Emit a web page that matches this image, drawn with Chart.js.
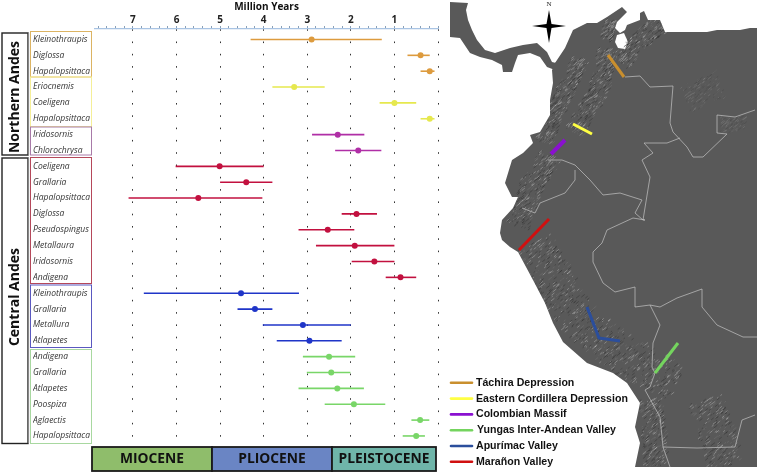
<!DOCTYPE html>
<html><head><meta charset="utf-8">
<style>html,body{margin:0;padding:0;background:#fff}canvas{display:block}</style>
<script src="https://cdn.jsdelivr.net/npm/chart.js@4"></script></head>
<body><canvas id="c" width="757" height="473"></canvas>
<script>
const taxa=["Kleinothraupis","Diglossa","Hapalopsittaca","Eriocnemis","Coeligena","Hapalopsittaca","Iridosornis","Chlorochrysa","Coeligena","Grallaria","Hapalopsittaca","Diglossa","Pseudospingus","Metallaura","Iridosornis","Andigena","Kleinothraupis","Grallaria","Metallura","Atlapetes","Andigena","Grallaria","Atlapetes","Poospiza","Aglaectis","Hapalopsittaca"];
const oldest=[4.30,0.70,0.40,3.80,1.34,0.40,2.89,2.36,6.02,5.00,7.10,2.21,3.20,2.80,1.98,1.20,6.75,4.60,4.02,3.70,3.10,3.01,3.20,2.60,0.61,0.81];
const mean=[2.90,0.40,0.19,3.30,1.00,0.19,2.30,1.83,5.01,4.40,5.50,1.87,2.53,1.91,1.46,0.86,4.52,4.20,3.10,2.95,2.50,2.45,2.31,1.93,0.41,0.50];
const youngest=[1.29,0.19,0.08,2.60,0.50,0.08,1.69,1.30,4.00,3.80,4.03,1.40,1.92,1.00,1.00,0.50,3.19,3.80,2.00,2.21,1.90,2.01,1.70,1.21,0.20,0.30];
const barrier=["#dd9b3e","#dd9b3e","#dd9b3e","#e6e84e","#e6e84e","#e6e84e","#b02ea6","#b02ea6","#c2103f","#c2103f","#c2103f","#c2103f","#c2103f","#c2103f","#c2103f","#c2103f","#1f35c8","#1f35c8","#1f35c8","#1f35c8","#79d668","#79d668","#79d668","#79d668","#79d668","#79d668"];
const legendLabels=["Táchira Depression","Eastern Cordillera Depression","Colombian Massif","Yungas Inter-Andean Valley","Apurímac Valley","Marañon Valley"];
const legendColors=["#c98f2e","#ffff44","#8a10d0","#74d45e","#2b4e9c","#d01010"];
const ranges=taxa.map((t,i)=>({type:'scatter',showLine:true,data:[{x:oldest[i],y:i},{x:youngest[i],y:i}],borderColor:barrier[i],borderWidth:1.6,pointRadius:0,order:2}));
const means=taxa.map((t,i)=>({x:mean[i],y:i}));
const land=[[555,63],[565,48],[573,30],[587,23],[597,23],[607,17],[622,7],[627,12],[617,22],[615,28],[620,33],[625,30],[627,25],[640,20],[640,13],[644,11],[648,20],[660,20],[665,32],[687,32],[707,32],[717,30],[740,30],[750,28],[757,28],[757,467],[635,467],[640,443],[635,427],[640,403],[627,383],[613,373],[587,363],[563,342],[553,323],[545,303],[533,280],[518,252],[510,247],[502,240],[500,233],[502,220],[513,208],[518,197],[512,197],[505,183],[512,160],[523,153],[533,143],[530,135],[540,132],[550,115],[550,100],[553,83],[552,70]];
const centralAm=[[450,2],[468,3],[466,10],[468,20],[472,30],[477,40],[485,50],[495,53],[510,48],[523,45],[537,43],[547,52],[552,62],[556,63],[555,70],[547,67],[540,57],[530,53],[518,55],[515,63],[512,72],[503,72],[502,65],[492,60],[480,57],[470,53],[460,38],[450,37]];
const lake=[[617,35],[624,33],[628,42],[625,49],[618,48],[615,42]];
const borders=[[[625,77],[640,76],[650,87],[673,86],[670,123],[673,132],[687,147],[693,157],[703,157],[727,134],[717,133],[717,115],[735,117],[755,110]],
[[680,138],[667,143],[644,143],[653,153],[642,160],[650,177],[643,220],[645,220],[633,218],[607,230],[602,243],[593,252],[593,262],[603,283],[615,292],[635,287],[635,307],[650,305],[660,307],[677,298],[702,289],[702,307],[717,325],[743,337],[757,337]],
[[650,305],[660,325],[653,343],[652,367],[655,373],[650,387],[645,390],[660,417],[663,447],[670,467]],
[[663,447],[697,448],[735,447],[742,420],[755,415]],
[[548,160],[562,160],[575,165],[590,180],[603,195],[620,193],[642,200],[635,213],[643,220]],
[[575,170],[575,180],[565,193],[540,203],[535,213],[522,208]]];
const relief=[[[620,63],[640,40],[663,23],[10]],[[607,50],[597,93],[573,133],[10]],[[580,60],[560,100],[543,143],[9]],[[612,22],[604,40],[7]],[[550,157],[530,187],[517,227],[12]],[[533,243],[553,283],[580,323],[623,357],[677,383],[20]],[[650,400],[655,467],[12]],[[705,400],[725,467],[18]],[[685,100],[720,85],[14]],[[720,125],[745,125],[8]]];
const cuts=[[[608,55],[624,77]],[[573,124],[592,134]],[[551,154],[565,140]],[[655,373],[678,343]],[[587,307],[599,338],[620,341]],[[519,250],[549,219]]];
function tracePoly(c,pts){pts.forEach((p,i)=>i?c.lineTo(p[0],p[1]):c.moveTo(p[0],p[1]));c.closePath();}
function grain(n){const v=Math.sin(n*12.9898)*43758.5453;return v-Math.floor(v);}
function drawMap(c){
  c.save();c.fillStyle='#595959';c.beginPath();tracePoly(c,land);tracePoly(c,centralAm);c.fill();
  c.fillStyle='#fff';c.beginPath();tracePoly(c,lake);c.fill();
  c.save();c.beginPath();tracePoly(c,land);tracePoly(c,centralAm);c.clip();
  const hatch=(path,hw,muted)=>{let n=0;for(let s=0;s<path.length-1;s++){
    const a=path[s],b=path[s+1],L=Math.hypot(b[0]-a[0],b[1]-a[1]),nx=-(b[1]-a[1])/L,ny=(b[0]-a[0])/L;
    for(let d=0;d<L;d+=.3){n++;
      const off=(grain(n)*2-1)*hw,w=1.5+grain(n+.37)*6,t=grain(n+.71);
      const x=a[0]+(b[0]-a[0])*d/L+nx*off,y=a[1]+(b[1]-a[1])*d/L+ny*off;
      c.strokeStyle=t<.36?'#e6e6e6':t<.72?'#1e1e1e':'#858585';c.lineWidth=.6;c.globalAlpha=muted?.22:.55;
      c.beginPath();c.moveTo(x,y);c.lineTo(x+w*.5,y-w*.4);c.stroke();}}};
  relief.forEach(r=>{const hw=r[r.length-1][0];hatch(r.slice(0,-1),hw,hw<=14&&r[0][0]>=685);});
  c.restore();c.globalAlpha=1;
  c.strokeStyle='#c4c4c4';c.lineWidth=.7;
  borders.forEach(l=>{c.beginPath();l.forEach((p,i)=>i?c.lineTo(p[0],p[1]):c.moveTo(p[0],p[1]));c.stroke();});
  c.lineCap='butt';c.lineJoin='round';
  cuts.forEach((k,i)=>{c.strokeStyle=legendColors[i];c.lineWidth=i==2?4:3;c.beginPath();k.forEach((p,j)=>j?c.lineTo(p[0],p[1]):c.moveTo(p[0],p[1]));c.stroke();});
  c.fillStyle='#000';c.beginPath();c.moveTo(549,10);c.lineTo(551.5,24);c.lineTo(566,26);c.lineTo(551.5,28);c.lineTo(549,43);c.lineTo(546.5,28);c.lineTo(532,26);c.lineTo(546.5,24);c.closePath();c.fill();
  c.fillStyle='#222';c.font='7px "Liberation Serif"';c.textAlign='center';c.textBaseline='middle';c.fillText('N',549,4);
  legendLabels.forEach((t,i)=>{const y=382.8+i*15.8;c.strokeStyle=legendColors[i];c.lineWidth=2.6;c.lineCap='round';c.beginPath();c.moveTo(451,y);c.lineTo(472,y);c.stroke();
    c.fillStyle='#111';c.font='bold 10.6px "Liberation Sans"';c.textAlign='left';c.textBaseline='middle';c.fillText(t,i==3?477:476,y);});
  c.restore();
}
function box(c,x0,y0,x1,y1,col,lw){c.strokeStyle=col;c.lineWidth=lw;c.strokeRect(x0,y0,x1-x0,y1-y0);}
function drawFrames(c){
  c.save();
  [[30.5,31.5,91.5,77,'#dcb463'],[30.5,77,91.5,126.5,'#f5ef98'],[30.5,127,91.5,155,'#a87aa8'],[30.5,157.5,91.5,283.5,'#b5485a'],[30.5,285,91.5,347.5,'#5a58c0'],[30.5,349.5,91.5,443.5,'#a8d8a0']].forEach(b=>box(c,b[0],b[1],b[2],b[3],b[4],1));
  box(c,2,33,28,155,'#222',1.4);box(c,2,158,28,443.5,'#222',1.4);
  c.strokeStyle='#888';c.lineWidth=1.2;c.beginPath();c.moveTo(28.5,33);c.lineTo(28.5,155);c.moveTo(28.5,158);c.lineTo(28.5,443);c.stroke();
  c.fillStyle='#111';c.font='bold 14px "Open Sans"';c.textAlign='center';c.textBaseline='middle';
  [['Northern Andes',97],['Central Andes',297]].forEach(r=>{c.save();c.translate(15,r[1]);c.rotate(-Math.PI/2);c.fillText(r[0],0,0);c.restore();});
  [['MIOCENE',92,212,'#8fbd6b'],['PLIOCENE',212,332,'#6a85c4'],['PLEISTOCENE',332,436,'#6fb5a9']].forEach(e=>{c.fillStyle=e[3];c.fillRect(e[1],447,e[2]-e[1],24);box(c,e[1],447,e[2],471,'#1a1a1a',1.8);
    c.fillStyle='#111';c.font='bold 13.8px "Open Sans"';c.textAlign='center';c.textBaseline='middle';c.fillText(e[0],(e[1]+e[2])/2,459);});
  c.restore();
}
new Chart(document.getElementById('c'),{
  data:{datasets:[...ranges,{type:'scatter',data:means,backgroundColor:barrier,borderColor:barrier,pointRadius:3,pointBorderWidth:0,order:1}]},
  options:{responsive:false,animation:false,
    layout:{padding:{left:33,right:319,top:0,bottom:28}},
    plugins:{legend:{display:false},tooltip:{enabled:false}},
    scales:{
      x:{type:'linear',position:'top',reverse:true,min:0,max:7.87,
        afterBuildTicks:s=>{const t=[];for(let k=0;k<=39;k++)t.push({value:k/5});s.ticks=t;},
        afterFit:s=>{s.height=29;},
        ticks:{autoSkip:false,maxRotation:0,padding:0,color:'#222',font:{family:'"Open Sans"',size:10,weight:'bold'},
          callback:v=>{const r=Math.round(v);return Math.abs(v-r)<1e-6&&r>0?String(r):'';}},
        title:{display:true,text:'Million Years',color:'#111',font:{family:'"Open Sans"',size:10,weight:'bold'},padding:{top:1,bottom:3}},
        border:{display:true,color:'#a9c4e4',width:1.2,dash:[1.6,10.7]},
        grid:{drawOnChartArea:true,tickLength:3,lineWidth:1,
          color:ctx=>{const v=ctx.tick.value;return Math.abs(v-Math.round(v))<1e-6?'#333':'rgba(0,0,0,0)';},
          tickColor:'#88a0b8',tickBorderDash:[]}},
      y:{type:'linear',reverse:true,min:-0.66,max:25.57,
        afterBuildTicks:s=>{s.ticks=taxa.map((t,i)=>({value:i}));},
        afterFit:s=>{s.width=62;},
        border:{display:false},grid:{display:false},
        ticks:{autoSkip:false,crossAlign:'far',padding:0,color:'#333',font:{family:'"Open Sans"',size:8.5,style:'italic'},callback:v=>taxa[v]}}
    }},
  plugins:[{id:'extras',beforeDatasetsDraw(ch){drawMap(ch.ctx);drawFrames(ch.ctx);}}]
});
</script></body></html>
